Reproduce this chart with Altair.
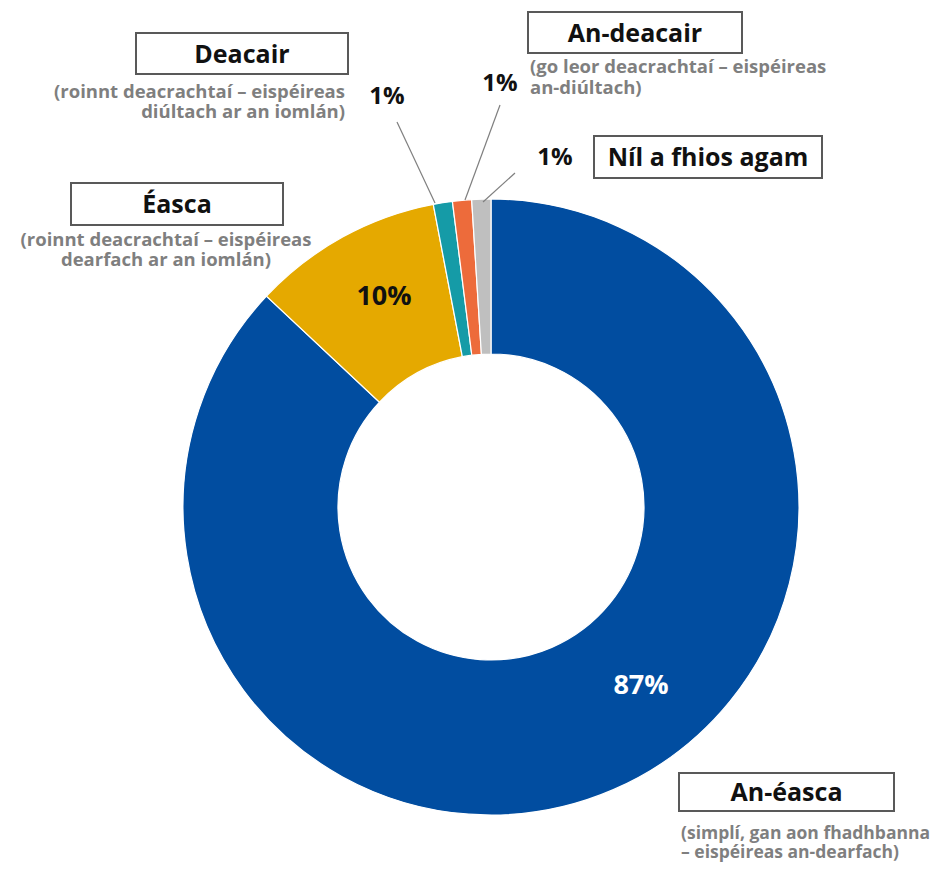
import altair as alt
import pandas as pd

# ---- data ----
categories = ["An-éasca", "Éasca", "Deacair", "An-deacair", "Níl a fhios agam"]
values = [87, 10, 1, 1, 1]
colors = ["#014DA0", "#E5A900", "#159BA7", "#ED6B3B", "#BFBFBF"]
subtitles = {
    "An-éasca": ["(simplí, gan aon fhadhbanna", "– eispéireas an-dearfach)"],
    "Éasca": ["(roinnt deacrachtaí – eispéireas", "dearfach ar an iomlán)"],
    "Deacair": ["(roinnt deacrachtaí – eispéireas", "diúltach ar an iomlán)"],
    "An-deacair": ["(go leor deacrachtaí – eispéireas", "an-diúltach)"],
}

W, H = 923, 854
CX, CY = 483, 499

df = pd.DataFrame({"category": categories, "value": values, "order": list(range(len(values)))})

arc = alt.Chart(df).mark_arc(outerRadius=308, innerRadius=153, stroke="white", strokeWidth=1.2).encode(
    theta=alt.Theta("value:Q", stack=True),
    color=alt.Color("category:N", scale=alt.Scale(domain=categories, range=colors), legend=None),
    order=alt.Order("order:Q"),
    x=alt.value(CX),
    y=alt.value(CY),
)

# ---- annotation layout (pixel positions) ----
box_pos = {
    "Deacair": (128, 25, 340, 66),
    "Éasca": (63, 175, 275, 217),
    "An-deacair": (520, 4, 734, 45),
    "Níl a fhios agam": (586, 128, 814, 170),
    "An-éasca": (671, 765, 886, 803),
}
boxes = pd.DataFrame([
    {"cat": k, "x": v[0], "y": v[1], "x2": v[2], "y2": v[3],
     "cx": (v[0] + v[2]) / 2, "cy": (v[1] + v[3]) / 2 + 1}
    for k, v in box_pos.items()
])

rects = alt.Chart(boxes).mark_rect(fill="white", stroke="#595959", strokeWidth=2).encode(
    x=alt.X("x:Q", scale=None), x2="x2:Q",
    y=alt.Y("y:Q", scale=None), y2="y2:Q",
)
titles = alt.Chart(boxes).mark_text(
    font="Open Sans", fontWeight="bold", fontSize=25, color="#111111", baseline="middle", align="center"
).encode(
    x=alt.X("cx:Q", scale=None), y=alt.Y("cy:Q", scale=None), text="cat:N"
)

# (align, x, first line centre, font size, line height)
sub_layout = {
    "Deacair": ("right", 337, 85, 18.5, 20),
    "Éasca": ("center", 158, 233, 18.5, 20),
    "An-deacair": ("left", 522, 60, 18.5, 21),
    "An-éasca": ("left", 673, 826, 17.5, 19),
}
sub_layers = []
for cat, (align, x, y0, fs, lh) in sub_layout.items():
    sub_layers.append(
        alt.Chart(pd.DataFrame({"t": ["\n".join(subtitles[cat])], "x": [x], "y": [y0]})).mark_text(
            font="Open Sans", fontWeight="bold", fontSize=fs, color="#7F7F7F",
            baseline="top", align=align, lineBreak="\n", lineHeight=lh, dy=-lh / 2
        ).encode(x=alt.X("x:Q", scale=None), y=alt.Y("y:Q", scale=None), text="t:N")
    )

pct_pos = {
    "An-éasca": (633, 678, 27, "white"),
    "Éasca": (376, 289, 27, "#111111"),
    "Deacair": (379, 89, 24, "#111111"),
    "An-deacair": (492, 76, 24, "#111111"),
    "Níl a fhios agam": (547, 150, 24, "#111111"),
}
pct_layers = []
for cat, val in zip(categories, values):
    x, y, fs, col = pct_pos[cat]
    pct_layers.append(
        alt.Chart(pd.DataFrame({"t": [f"{val}%"], "x": [x], "y": [y]})).mark_text(
            font="Open Sans", fontWeight="bold", fontSize=fs, color=col, baseline="middle", align="center"
        ).encode(x=alt.X("x:Q", scale=None), y=alt.Y("y:Q", scale=None), text="t:N")
    )

leaders = pd.DataFrame({
    "x": [389, 492, 507], "y": [114, 97, 165],
    "x2": [427, 457, 475], "y2": [195, 192, 194],
})
lines = alt.Chart(leaders).mark_rule(color="#7F7F7F", strokeWidth=1.2).encode(
    x=alt.X("x:Q", scale=None), y=alt.Y("y:Q", scale=None), x2="x2:Q", y2="y2:Q"
)

chart = alt.layer(arc, lines, rects, titles, *sub_layers, *pct_layers).properties(
    width=W, height=H, padding=0, autosize=alt.AutoSizeParams(type="none")
).configure_view(stroke=None)

chart.save("out.html", embed_options={"renderer": "svg", "actions": False})
